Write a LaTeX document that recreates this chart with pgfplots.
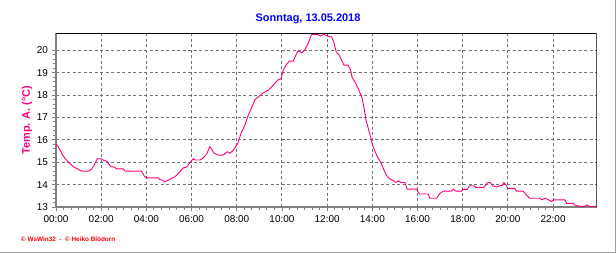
\documentclass[border=0pt]{standalone}
\usepackage{pgfplots}
\pgfplotsset{compat=1.18}
\usepackage{fontspec}
\setmainfont{Liberation Sans}
\definecolor{curve}{HTML}{FF0080}
\definecolor{ttl}{HTML}{0000FF}
\definecolor{gridc}{HTML}{808080}
\definecolor{frame}{HTML}{A0A0A0}
\begin{document}
\begin{tikzpicture}
\useasboundingbox (0,0) rectangle (616bp,253bp);
\fill[white] (0,0) rectangle (616bp,253bp);
\draw[frame, line width=1.2bp] (0,0.6bp) -- (615.4bp,0.6bp) -- (615.4bp,253bp);
\node[ttl, font=\fontsize{11}{13}\selectfont\bfseries] at (308bp,234bp) {Sonntag, 13.05.2018};
\node[curve, rotate=90, font=\fontsize{11}{13}\selectfont\bfseries] at (27bp,133bp) {Temp. A. (°C)};
\node[red, anchor=west, inner sep=0pt, font=\fontsize{6.4}{7}\selectfont\bfseries] at (21bp,14bp) {© WsWin32 \ - \ © Heiko Blödorn};
\begin{axis}[
  at={(56bp,46bp)}, anchor=south west,
  width=540.7bp, height=173.7bp, scale only axis,
  xmin=0, xmax=23.93, ymin=13, ymax=20.76,
  axis x line*=bottom, axis y line*=left,
  axis line style={-, gridc, line width=1.6bp},
  xtick={0,2,...,22},
  xticklabels={00:00,02:00,04:00,06:00,08:00,10:00,12:00,14:00,16:00,18:00,20:00,22:00},
  ytick={13,14,...,20},
  minor x tick num=5, minor y tick num=4,
  tick align=outside,
  major tick length=4bp, minor tick length=2.5bp,
  tick style={gridc, line width=0.9bp},
  grid=major,
  major grid style={gridc!90!black, line width=1bp, dash pattern=on 3bp off 2.5bp},
  /pgf/number format/assume math mode=true,
  tick label style={font=\fontsize{10}{12}\selectfont, black},
  xticklabel style={yshift=-1bp},
  yticklabel style={xshift=-0.5bp},
]
\addplot[curve, line width=0.9bp] coordinates {
(0,15.82) (0.1,15.7) (0.25,15.4) (0.4,15.17) (0.55,15.0) (0.77,14.8) (0.95,14.7)
(1.14,14.6) (1.43,14.6) (1.58,14.7) (1.7,14.9) (1.83,15.16) (2.0,15.15) (2.14,15.07)
(2.24,15.05) (2.43,14.8) (2.6,14.78) (2.68,14.7) (2.98,14.7) (3.06,14.6) (3.79,14.6)
(3.91,14.38) (4.01,14.3) (4.53,14.3) (4.6,14.22) (4.75,14.2) (4.82,14.12) (4.97,14.2)
(5.12,14.28) (5.27,14.35) (5.49,14.58) (5.64,14.75) (5.78,14.78) (5.93,14.98) (6.08,15.16)
(6.15,15.1) (6.37,15.1) (6.52,15.2) (6.67,15.37) (6.81,15.7) (7.0,15.4) (7.18,15.32)
(7.4,15.32) (7.58,15.47) (7.7,15.4) (7.85,15.54) (8.04,15.84) (8.19,16.29) (8.36,16.66)
(8.51,17.1) (8.66,17.45) (8.81,17.8) (9.03,17.98) (9.17,18.1) (9.4,18.22) (9.62,18.45)
(9.81,18.67) (9.95,18.72) (10.06,19.12) (10.2,19.37) (10.33,19.52) (10.5,19.52)
(10.68,19.93) (10.77,19.97) (10.87,19.89) (11.02,20.04) (11.16,20.31) (11.31,20.71)
(11.6,20.71) (11.7,20.64) (11.86,20.72) (12.0,20.63) (12.2,20.6) (12.3,20.35) (12.4,19.93)
(12.53,19.79) (12.64,19.56) (12.74,19.34) (12.93,19.34) (13.04,19.12) (13.11,18.77)
(13.27,18.52) (13.42,18.18) (13.55,17.85) (13.64,17.4) (13.72,16.88) (13.82,16.51)
(13.92,16.14) (14.01,15.77) (14.11,15.51) (14.22,15.25) (14.37,15.0) (14.48,14.73)
(14.6,14.46) (14.71,14.31) (14.86,14.21) (15.04,14.1) (15.15,14.17) (15.26,14.1)
(15.44,14.1) (15.54,13.8) (15.96,13.8) (16.08,13.58) (16.47,13.58) (16.55,13.39)
(16.85,13.39) (16.96,13.57) (17.14,13.71) (17.5,13.71) (17.58,13.79) (17.7,13.71)
(17.95,13.71) (18.02,13.79) (18.2,13.79) (18.32,13.95) (18.5,13.95) (18.57,13.88)
(18.93,13.88) (19.1,14.09) (19.22,14.09) (19.33,13.95) (19.49,13.89) (19.63,13.95)
(19.75,13.97) (19.82,14.09) (19.94,13.95) (20.0,13.83) (20.3,13.83) (20.38,13.71)
(20.67,13.71) (20.79,13.57) (20.97,13.39) (21.42,13.39) (21.5,13.32) (21.65,13.39)
(21.8,13.32) (21.93,13.24) (22.0,13.32) (22.52,13.32) (22.6,13.16) (22.89,13.16)
(22.96,13.09) (23.19,13.03) (23.41,13.03) (23.49,13.09) (23.6,13.03) (23.92,13.03)
};
\draw[black, line width=0.8bp] (rel axis cs:0,1) -- (rel axis cs:1,1) -- (rel axis cs:1,0);
\end{axis}
\end{tikzpicture}
\end{document}
